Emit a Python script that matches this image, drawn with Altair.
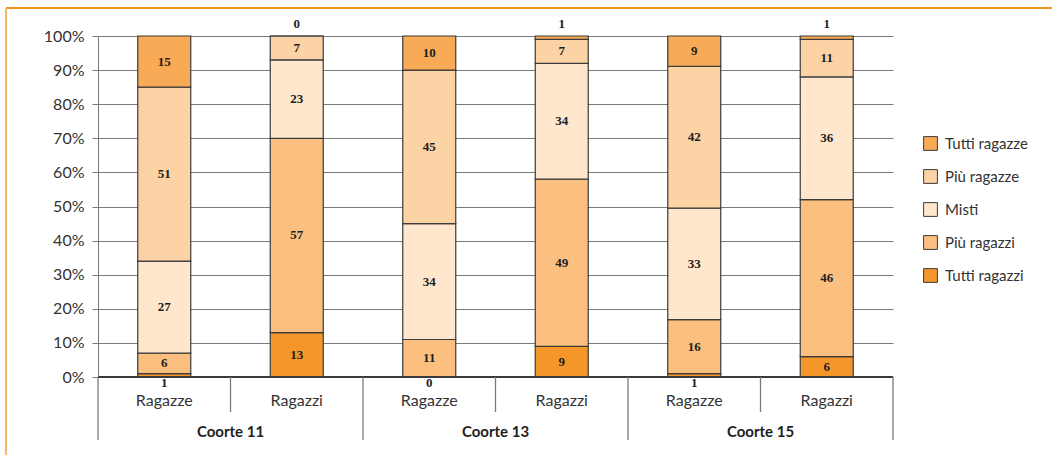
import altair as alt
import pandas as pd

# Share of classes by composition, per cohort and pupil gender (percent)
cohorts = ["Coorte 11", "Coorte 13", "Coorte 15"]
groups = ["Ragazze", "Ragazzi"]
categories = ["Tutti ragazzi", "Più ragazzi", "Misti", "Più ragazze", "Tutti ragazze"]
legend_order = ["Tutti ragazze", "Più ragazze", "Misti", "Più ragazzi", "Tutti ragazzi"]
colors = ["#F8AA57", "#FCD3A4", "#FEE7CD", "#FBBF80", "#F5962A"]
tick_values = [0, 0.1, 0.2, 0.3, 0.4, 0.5, 0.6, 0.7, 0.8, 0.9, 1.0]

# values listed bottom to top, in the order of `categories`
coorte11_ragazze = [1, 6, 27, 51, 15]
coorte11_ragazzi = [13, 57, 23, 7, 0]
coorte13_ragazze = [0, 11, 34, 45, 10]
coorte13_ragazzi = [9, 49, 34, 7, 1]
coorte15_ragazze = [1, 16, 33, 42, 9]
coorte15_ragazzi = [6, 46, 36, 11, 1]

series = [
    coorte11_ragazze, coorte11_ragazzi,
    coorte13_ragazze, coorte13_ragazzi,
    coorte15_ragazze, coorte15_ragazzi,
]

rows = []
for slot, vals in enumerate(series):
    for idx, (cat, v) in enumerate(zip(categories, vals)):
        rows.append({
            "slot": slot,
            "cohort": cohorts[slot // 2],
            "group": groups[slot % 2],
            "category": cat,
            "cat_idx": idx,
            "value": v,
        })
df = pd.DataFrame(rows)

slots = pd.DataFrame({"slot": list(range(6)), "group": groups * 3})
cohort_df = pd.DataFrame({"pos": [1, 3, 5], "cohort": cohorts})
long_seps = pd.DataFrame({"pos": [0, 2, 4, 6]})
short_seps = pd.DataFrame({"pos": [1, 3, 5]})

W, H = 795, 341
FONT = "Lato"
xscale = alt.Scale(domain=[0, 6], padding=0, nice=False, zero=False)
yscale = alt.Scale(domain=[0, 1], nice=False)
yaxis = alt.Axis(
    format="%", values=tick_values, title=None,
    grid=True, gridColor="#7a7a7a", gridWidth=1.2,
    domainColor="#7a7a7a", tickColor="#7a7a7a", tickSize=6,
    labelFont=FONT, labelFontSize=16, labelColor="#333333",
    labelPadding=8, labelOverlap=False,
)

base = alt.Chart(df).transform_calculate(xc="datum.slot + 0.5")

bars = base.mark_bar(size=53, stroke="#3b3b3b", strokeWidth=1.2).encode(
    x=alt.X("xc:Q", scale=xscale, axis=None),
    y=alt.Y("value:Q", stack="normalize", scale=yscale, axis=yaxis),
    color=alt.Color(
        "category:N",
        scale=alt.Scale(domain=legend_order, range=colors),
        legend=alt.Legend(
            title=None, orient="none", legendX=825, legendY=100,
            symbolType="square", symbolSize=190, symbolStrokeColor="#3b3b3b",
            symbolStrokeWidth=1, symbolOpacity=1,
            labelFont=FONT, labelFontSize=15, labelColor="#333333",
            rowPadding=14, labelOffset=7,
        ),
    ),
    order=alt.Order("cat_idx:Q", sort="ascending"),
)

labels = base.transform_stack(
    stack="value", groupby=["slot"], as_=["y0", "y1"],
    offset="normalize", sort=[alt.SortField("cat_idx", order="ascending")],
).transform_calculate(
    ypos="datum.value <= 1 ? (datum.cat_idx == 0 ? -0.018 : 1.036) : (datum.y0 + datum.y1) / 2"
).mark_text(
    font="Liberation Serif", fontWeight="bold", fontSize=13, color="#1e1e1e"
).encode(
    x=alt.X("xc:Q", scale=xscale, axis=None),
    y=alt.Y("ypos:Q", scale=yscale, axis=yaxis),
    text=alt.Text("value:Q"),
)

baseline = alt.Chart(slots).mark_rule(color="#3b3b3b", strokeWidth=1.3).encode(
    x=alt.value(0), x2=alt.value(W), y=alt.value(H)
)

seps_long = alt.Chart(long_seps).mark_rule(color="#7a7a7a", strokeWidth=1.3).encode(
    x=alt.X("pos:Q", scale=xscale, axis=None),
    y=alt.value(H),
    y2=alt.value(H + 63),
)
seps_short = alt.Chart(short_seps).mark_rule(color="#7a7a7a", strokeWidth=1.3).encode(
    x=alt.X("pos:Q", scale=xscale, axis=None),
    y=alt.value(H),
    y2=alt.value(H + 35),
)

group_labels = alt.Chart(slots).transform_calculate(xc="datum.slot + 0.5").mark_text(
    font=FONT, fontSize=16, color="#333333", baseline="middle"
).encode(
    x=alt.X("xc:Q", scale=xscale, axis=None),
    y=alt.value(H + 24),
    text="group:N",
)

cohort_labels = alt.Chart(cohort_df).mark_text(
    font=FONT, fontSize=15, fontWeight="bold", color="#1e1e1e", baseline="middle"
).encode(
    x=alt.X("pos:Q", scale=xscale, axis=None),
    y=alt.value(H + 55),
    text="cohort:N",
)

frame_df = pd.DataFrame({"k": [0]})
frame_top = alt.Chart(frame_df).mark_rule(color="#F7941D", strokeWidth=2).encode(
    x=alt.value(-92), x2=alt.value(1052 - 98), y=alt.value(-28)
)
frame_left = alt.Chart(frame_df).mark_rule(color="#FBB36A", strokeWidth=2).encode(
    x=alt.value(-92), y=alt.value(-28), y2=alt.value(455 - 36)
)

chart = alt.layer(
    bars, baseline, seps_long, seps_short, labels, group_labels, cohort_labels,
    frame_top, frame_left
).properties(
    width=W, height=H,
    autosize=alt.AutoSizeParams(type="none"),
    padding={"left": 98, "top": 36, "right": 1052 - 98 - W, "bottom": 455 - 36 - H},
    background="white",
).configure_view(stroke=None)

chart.save("out.html", embed_options={"renderer": "svg", "actions": False})
